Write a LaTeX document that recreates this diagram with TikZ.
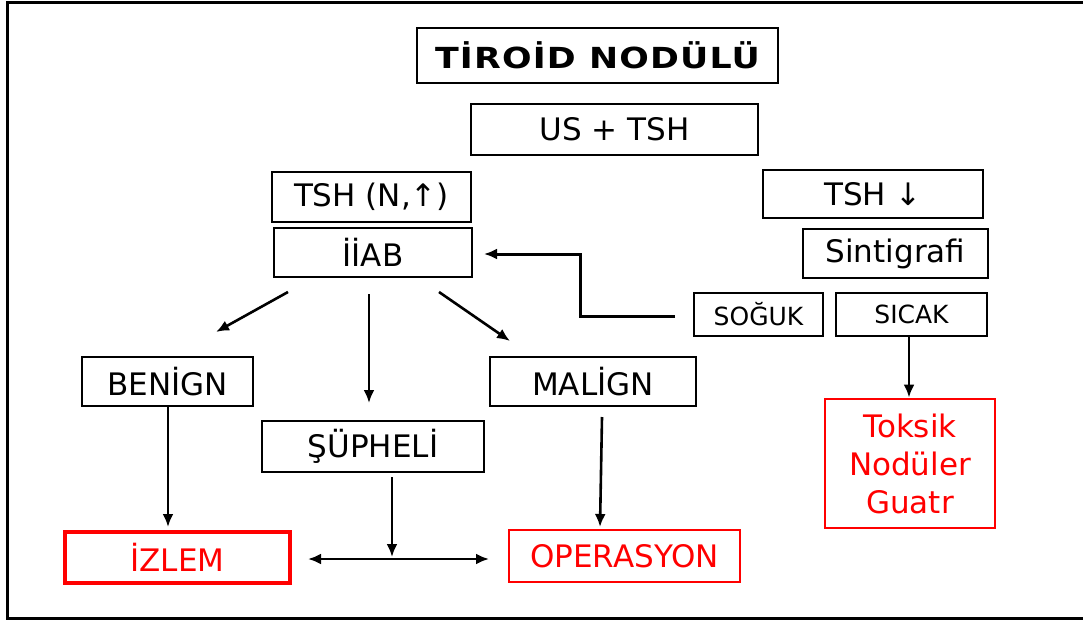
\documentclass[tikz,border=0pt]{standalone}
\usepackage{fontspec}
\setmainfont{DejaVu Sans}
\newfontfamily\titlefont[FakeStretch=1.2,LetterSpace=4]{DejaVu Sans}
\usetikzlibrary{arrows.meta}
\tikzset{
  box/.style={draw, line width=1.8pt, inner sep=0pt, align=center, font=\fontsize{31}{38}\selectfont},
  smallbox/.style={box, font=\fontsize{25}{30}\selectfont},
  redbox/.style={box, draw=red, text=red},
  tip/.style={Latex[length=13pt,width=11pt]},
  conn/.style={line width=2.6pt, -{Latex[length=13pt,width=11pt]}},
  dconn/.style={line width=2.6pt, {Latex[length=13pt,width=11pt]}-{Latex[length=13pt,width=11pt]}},
}
\begin{document}
\begin{tikzpicture}[x=1pt,y=-1pt]
\useasboundingbox (0,0) rectangle (1083,621);
\draw[line width=3pt] (1090,2) -- (7,2) -- (7,618) -- (1090,618);

\node[box, minimum width=361pt, minimum height=55pt, font=\titlefont\bfseries\fontsize{29}{34}\selectfont] (title) at (597.5,55.5) {TİROİD NODÜLÜ};
\node[box, minimum width=287pt, minimum height=51pt] (us) at (614.5,129.5) {US + TSH};
\node[box, minimum width=199pt, minimum height=50pt] (tshn) at (371.5,197) {TSH (N,↑)};
\node[box, minimum width=198pt, minimum height=49pt] (iiab) at (373,252.5) {İİAB};
\node[box, minimum width=220pt, minimum height=48pt] (tshd) at (873,194) {TSH ↓};
\node[box, minimum width=185pt, minimum height=49pt] (sint) at (895.5,253.5) {Sintigrafi};
\node[smallbox, minimum width=129pt, minimum height=43pt] (soguk) at (758.5,314.5) {SOĞUK};
\node[smallbox, minimum width=151pt, minimum height=43pt] (sicak) at (911.5,314.5) {SICAK};
\node[redbox, line width=2.8pt, minimum width=170pt, minimum height=129pt] (toksik) at (910,463.5) {Toksik\\Nodüler\\Guatr};
\node[box, minimum width=171pt, minimum height=49pt] (benign) at (167.5,381.5) {BENİGN};
\node[box, minimum width=206pt, minimum height=49pt] (malign) at (593,381.5) {MALİGN};
\node[box, minimum width=222pt, minimum height=51pt] (supheli) at (373,446.5) {ŞÜPHELİ};
\node[redbox, line width=3.8pt, minimum width=225pt, minimum height=51pt] (izlem) at (177.5,557.5) {İZLEM};
\node[redbox, line width=2.6pt, minimum width=231pt, minimum height=52pt] (oper) at (624.5,556) {OPERASYON};

% free ends
\coordinate (l1) at (288,292);
\coordinate (l2) at (216,332);
\coordinate (m1) at (369,294);
\coordinate (m2) at (369,403);
\coordinate (r1) at (439,292);
\coordinate (r2) at (510,341);
\coordinate (b2) at (168,527);
\coordinate (g1) at (602,417);
\coordinate (g2) at (600,527);
\coordinate (s1) at (392,477);
\coordinate (s2) at (392,557);
\coordinate (d1) at (308,559);
\coordinate (d2) at (489,559);
\coordinate (k1) at (675,316);
\coordinate (k2) at (580,316);
\coordinate (k3) at (580,254);
\coordinate (k4) at (484,254);
\coordinate (t1) at (909,336);

\draw[conn] (l1) -- (l2);
\draw[conn] (m1) -- (m2);
\draw[conn] (r1) -- (r2);
\draw[conn] (benign.south -| b2) -- (b2);
\draw[conn] (g1) -- (g2);
\draw[conn] (s1) -- (s2);
\draw[dconn] (d1) -- (d2);
\draw[conn, line width=3pt] (k1) -- (k2) -- (k3) -- (k4);
\draw[conn] (sicak.south -| t1) -- (toksik.north -| t1);
\end{tikzpicture}
\end{document}
